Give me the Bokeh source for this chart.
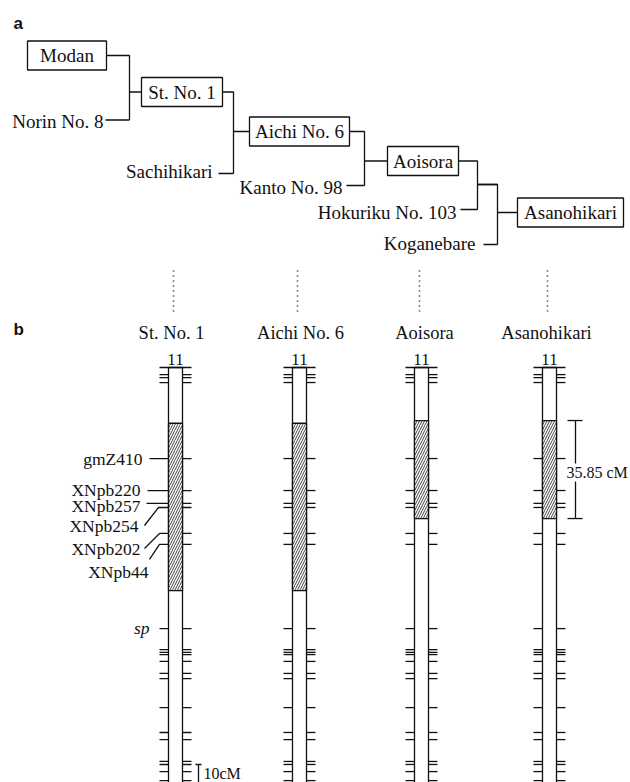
from bokeh.plotting import figure
from bokeh.models import Range1d
from bokeh.core.properties import value
from bokeh.embed import file_html
from bokeh.resources import INLINE

# ---------------- data ----------------
pedigree_cultivars = ["Modan", "St. No. 1", "Aichi No. 6", "Aoisora", "Asanohikari"]
pedigree_donors = ["Norin No. 8", "Sachihikari", "Kanto No. 98", "Hokuriku No. 103", "Koganebare"]
map_cultivars = ["St. No. 1", "Aichi No. 6", "Aoisora", "Asanohikari"]
chromosome_name = "11"
marker_cM = [2.6, 3.7, 5.5, 33.3, 45.0, 49.7, 51.2, 60.7, 64.7, 95.5, 103.2, 104.2,
             105.0, 107.5, 111.9, 113.8, 124.4, 133.5, 136.1, 144.1, 145.2, 147.8, 151.1]
named_markers = ["gmZ410", "XNpb220", "XNpb257", "XNpb254", "XNpb202", "XNpb44", "sp"]
named_marker_cM = [33.3, 45.0, 49.7, 51.2, 60.7, 64.7, 95.5]
segment_start_cM = [20.4, 20.4, 19.4, 19.4]
segment_end_cM = [81.6, 81.6, 55.25, 55.25]
segment_label = "35.85 cM"
scale_bar_cM = 10
scale_bar_label = "10cM"

# ---------------- layout / style ----------------
SERIF = value("Liberation Serif")
SANS = value("Liberation Sans")
LW = 1.3
INK = "#111111"

p = figure(width=630, height=782, x_range=Range1d(0, 630), y_range=Range1d(782, 0),
           output_backend="svg", toolbar_location=None,
           x_axis_location=None, y_axis_location=None, min_border=0,
           outline_line_color=None)
p.grid.visible = False

# panel letters
p.text(x=[13, 13], y=[23, 329], text=["a", "b"], text_font=SANS, text_font_style="bold",
       text_font_size="17px", text_baseline="middle", text_align="left", text_color=INK)

# ---- panel a: pedigree ----
box_cx = [66.5, 181.5, 299, 422.5, 570]
box_cy = [55, 91.5, 131, 160.5, 212]
box_w = [79, 81, 100, 71, 106]
box_h = 29
junction_x = [129, 233, 364, 477, 497]
donor_line_y = [119.5, 173, 185, 209, 244]
donor_line_x0 = [105, 218, 346, 460, 483]
donor_text_x = [103, 212, 342, 456, 475]
donor_text_y = [121, 171, 187, 212, 243]
intermediate_y = 184

xs, ys = [], []
for i, donor in enumerate(pedigree_donors):
    J = junction_x[i]
    if i < 4:
        fx, fy = box_cx[i] + box_w[i] / 2, box_cy[i]
    else:
        fx, fy = junction_x[3], intermediate_y
    if i == 3:
        cxl, cy = junction_x[4], intermediate_y
    else:
        k = i + 1 if i < 3 else 4
        cxl, cy = box_cx[k] - box_w[k] / 2, box_cy[k]
    xs += [[fx, J, J], [donor_line_x0[i], J], [J, cxl]]
    ys += [[fy, fy, donor_line_y[i]], [donor_line_y[i], donor_line_y[i]], [cy, cy]]
p.multi_line(xs=xs, ys=ys, line_color=INK, line_width=LW)

p.rect(x=box_cx, y=box_cy, width=box_w, height=box_h, fill_color="white",
       line_color=INK, line_width=LW)
p.text(x=box_cx, y=box_cy, text=pedigree_cultivars, text_font=SERIF, text_font_size="19px",
       text_align="center", text_baseline="middle", text_color=INK)
p.text(x=donor_text_x, y=donor_text_y, text=pedigree_donors, text_font=SERIF,
       text_font_size="19px", text_align="right", text_baseline="middle", text_color=INK)

# ---- panel b: chromosome 11 maps ----
chrom_cx = [175, 299, 421, 549]
half_w = 7
tick = 9
top_y = 367
ppc = 2.734  # pixels per cM


def ym(c):
    return top_y + c * ppc


# dotted connectors and titles
p.multi_line(xs=[[c - 2, c - 2] for c in chrom_cx], ys=[[270, 312]] * 4, line_color=INK,
             line_width=1.6, line_dash="1 4")
p.text(x=[171, 300, 424, 546], y=[332] * 4, text=map_cultivars, text_font=SERIF,
       text_font_size="18.5px", text_align="center", text_baseline="middle", text_color=INK)
p.text(x=chrom_cx, y=[359] * 4, text=[chromosome_name] * 4, text_font=SERIF,
       text_font_size="17px", text_align="center", text_baseline="middle", text_color=INK)

# chromosome bodies
p.quad(left=[c - half_w for c in chrom_cx], right=[c + half_w for c in chrom_cx],
       top=[top_y] * 4, bottom=[800] * 4, fill_color="white", line_color=INK, line_width=LW)
# introgressed segments
p.quad(left=[c - half_w for c in chrom_cx], right=[c + half_w for c in chrom_cx],
       top=[ym(s) for s in segment_start_cM], bottom=[ym(e) for e in segment_end_cM],
       fill_color="white", line_color=INK, line_width=LW,
       hatch_pattern="/", hatch_color=INK, hatch_scale=5, hatch_weight=0.8)

# top caps
p.multi_line(xs=[[c - half_w - tick, c + half_w + tick] for c in chrom_cx],
             ys=[[top_y, top_y]] * 4, line_color=INK, line_width=LW)

# marker ticks
leader_end = {"gmZ410": [(149, 0)], "XNpb220": [(147, 0)], "XNpb257": [(146, 0)],
              "XNpb254": [(158, 0), (144, 18)], "XNpb202": [(159, 0), (144, 15)],
              "XNpb44": [(159, 0), (149, 15)]}
named_lookup = dict(zip(named_marker_cM, named_markers))
txs, tys = [], []
for j, c in enumerate(chrom_cx):
    xl, xr = c - half_w, c + half_w
    for m in marker_cM:
        y = ym(m)
        txs.append([xr, xr + tick]); tys.append([y, y])
        name = named_lookup.get(m)
        if j == 0 and name in leader_end:
            px = [xl] + [pt[0] for pt in leader_end[name]]
            py = [y] + [y + pt[1] for pt in leader_end[name]]
            txs.append(px); tys.append(py)
        else:
            txs.append([xl - tick, xl]); tys.append([y, y])
p.multi_line(xs=txs, ys=tys, line_color=INK, line_width=LW)

# marker labels (St. No. 1)
label_x = [142, 140, 140, 138, 140, 148]
label_y = [458, 489, 505, 525, 548, 571]
p.text(x=label_x, y=label_y, text=named_markers[:6], text_font=SERIF, text_font_size="17.5px",
       text_align="right", text_baseline="middle", text_color=INK)
p.text(x=[149], y=[ym(named_marker_cM[6]) - 1], text=[named_markers[6]], text_font=SERIF,
       text_font_style="italic", text_font_size="17.5px", text_align="right",
       text_baseline="middle", text_color=INK)

# 35.85 cM bracket beside Asanohikari
bx = 575
y0, y1 = ym(segment_start_cM[3]), ym(segment_end_cM[3])
ty = 472
p.multi_line(xs=[[bx - 8, bx + 7], [bx - 8, bx + 7], [bx, bx], [bx, bx]],
             ys=[[y0, y0], [y1, y1], [y0, ty - 9], [ty + 9, y1]],
             line_color=INK, line_width=LW)
p.text(x=[566], y=[ty], text=[segment_label], text_font=SERIF, text_font_size="16px",
       text_align="left", text_baseline="middle", text_color=INK)

# 10 cM scale bar
sx = 198
sy = ym(145.2)
p.multi_line(xs=[[sx - 3, sx + 3], [sx, sx]], ys=[[sy, sy], [sy, sy + scale_bar_cM * ppc]],
             line_color=INK, line_width=LW)
p.text(x=[203], y=[773], text=[scale_bar_label], text_font=SERIF, text_font_size="16px",
       text_align="left", text_baseline="middle", text_color=INK)

open("out.html", "w").write(file_html(p, INLINE))
